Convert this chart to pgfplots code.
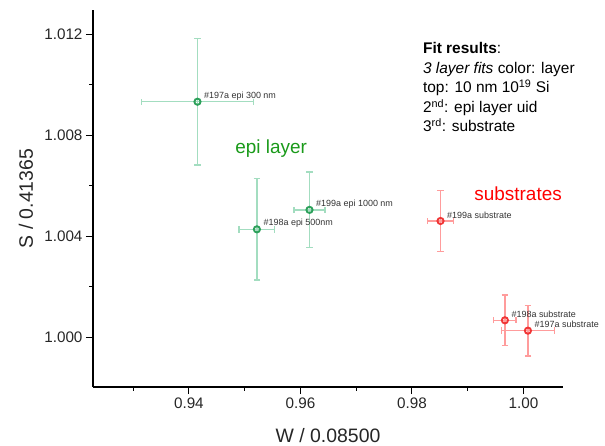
\documentclass[border=0pt]{standalone}
\usepackage{fontspec}
\setmainfont{Liberation Sans}
\usepackage{pgfplots}
\pgfplotsset{compat=1.18}
\usepackage{pgfplotstable}

\definecolor{epimark}{HTML}{2CA05A}
\definecolor{epibar}{HTML}{A3DDC0}
\definecolor{epitext}{HTML}{1A9A1A}
\definecolor{submark}{HTML}{F03535}
\definecolor{subbar}{HTML}{FF9C9C}
\definecolor{labtext}{HTML}{333333}

% x, y, error in x, error in y, label
\pgfplotstableread{
x       y       ex      ey      label
0.94154 1.00932 0.0100  0.0025  {\#197a epi 300 nm}
0.95220 1.00427 0.0032  0.0020  {\#198a epi 500nm}
0.96163 1.00504 0.0028  0.0015  {\#199a epi 1000 nm}
}\epidata

\pgfplotstableread{
x       y       ex      ey      label
0.98513 1.00460 0.0023  0.0012  {\#199a substrate}
0.99668 1.00067 0.0020  0.0010  {\#198a substrate}
1.00081 1.00026 0.0048  0.0010  {\#197a substrate}
}\subdata

\pgfplotsset{
  errpts/.style 2 args={only marks, mark=o, mark size=3.1bp,
    mark options={draw=#1, fill=white, line width=1.9bp},
    error bars/.cd, x dir=both, x explicit, y dir=both, y explicit,
    error mark=-,
    error bar style={draw=#2, line width=1.3bp},
    error mark options={rotate=90, draw=#2, mark size=3.2bp, line width=1.3bp}},
  ptlabels/.style={only marks, mark=none, point meta=explicit symbolic,
    nodes near coords,
    every node near coord/.style={anchor=west, inner sep=0pt, xshift=6.5bp, yshift=6bp,
        font=\fontsize{9}{10}\selectfont, text=labtext}},
}

\begin{document}
\begin{tikzpicture}
\useasboundingbox (-93bp,-59bp) rectangle (512bp,387bp);
\begin{axis}[
    scale only axis,
    width=470bp, height=377bp,
    xmin=0.9228, xmax=1.0071,
    ymin=0.99803, ymax=1.01295,
    axis lines*=left,
    axis line style={line width=1.1bp, black},
    tick align=outside,
    major tick length=7bp,
    minor tick length=3.5bp,
    every tick/.style={black, line width=1bp},
    xtick={0.94,0.96,0.98,1.00},
    minor xtick={0.93,0.95,0.97,0.99},
    ytick={1.000,1.004,1.008,1.012},
    minor ytick={1.002,1.006,1.010},
    xticklabel style={/pgf/number format/.cd, fixed, fixed zerofill, precision=2},
    yticklabel style={/pgf/number format/.cd, fixed, fixed zerofill, precision=3},
    scaled ticks=false,
    /pgf/number format/assume math mode=true,
    ticklabel style={font=\fontsize{15.3}{18}\selectfont, text=black!85},
    xlabel={W / 0.08500},
    ylabel={S / 0.41365},
    label style={font=\fontsize{19.5}{22}\selectfont, text=black!85},
    xlabel style={at={(axis description cs:0.5,-0.130)}, anchor=center},
    ylabel style={at={(axis description cs:-0.1426,0.5)}, anchor=center},
    clip=false,
]
\addplot[errpts={epimark}{epibar}]
    table[x=x, y=y, x error=ex, y error=ey] {\epidata};
\addplot[errpts={submark}{subbar}]
    table[x=x, y=y, x error=ex, y error=ey] {\subdata};
\addplot[ptlabels] table[x=x, y=y, meta=label] {\epidata};
\addplot[ptlabels] table[x=x, y=y, meta=label] {\subdata};

\node[anchor=base west, inner sep=0pt, text=epitext, font=\fontsize{19}{22}\selectfont]
    at (axis cs:0.9483,1.00729) {epi layer};
\node[anchor=base west, inner sep=0pt, text=red, font=\fontsize{19}{22}\selectfont]
    at (axis cs:0.99118,1.00543) {substrates};
\node[anchor=north west, inner sep=0pt, align=left, font=\fontsize{15.5}{19.5}\selectfont]
    at (axis cs:0.98197,1.01166)
    {\textbf{Fit results}:\\
     \textit{3 layer fits} color: layer\\
     top: 10 nm 10\textsuperscript{19} Si\\
     2\textsuperscript{nd}: epi layer uid\\
     3\textsuperscript{rd}: substrate};
\end{axis}
\end{tikzpicture}
\end{document}
